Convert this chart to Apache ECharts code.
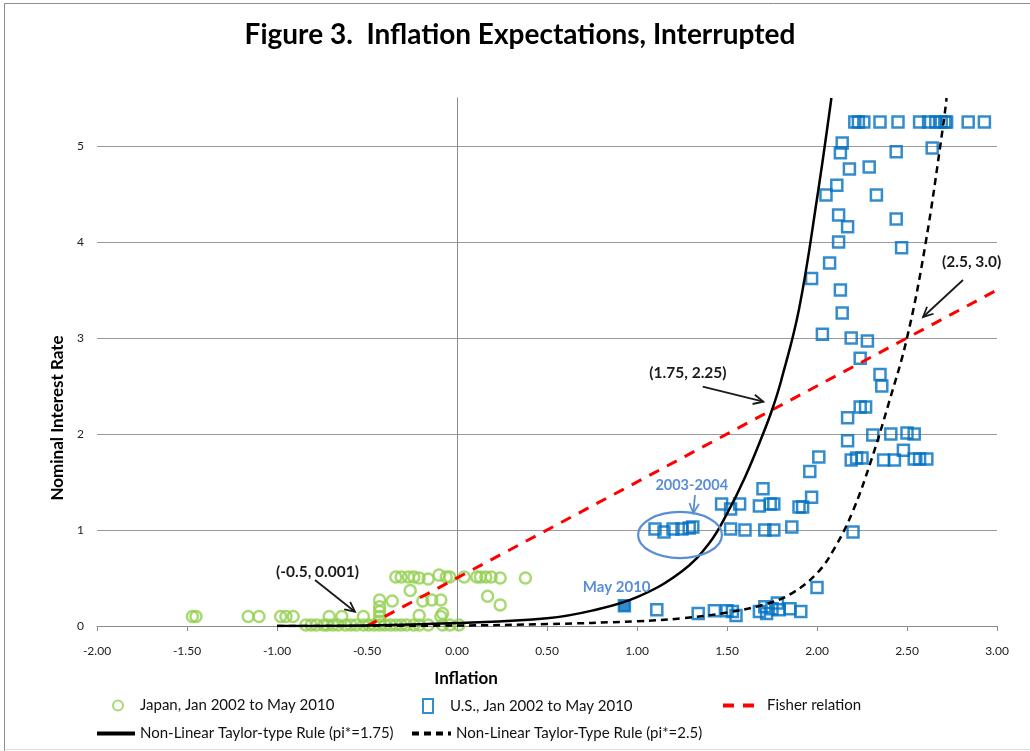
<!DOCTYPE html>
<html><head><meta charset="utf-8">
<script src="https://cdn.jsdelivr.net/npm/echarts@6/dist/echarts.min.js"></script>
<style>html,body{margin:0;padding:0;background:#fff}#c{width:1030px;height:751px}</style>
</head><body><div id="c"></div>
<script>
// ---------------- data ----------------
const xTickValues = [-2, -1.5, -1, -0.5, 0, 0.5, 1, 1.5, 2, 2.5, 3];
const yTickValues = [0, 1, 2, 3, 4, 5];

const japan = [
  [-1.47,0.10],[-1.45,0.10],[-1.16,0.10],[-1.10,0.10],[-0.98,0.10],[-0.95,0.10],[-0.91,0.10],
  [-0.71,0.10],[-0.64,0.10],[-0.52,0.10],
  [-0.43,0.05],[-0.43,0.10],[-0.43,0.15],[-0.43,0.20],[-0.43,0.27],[-0.36,0.26],[-0.26,0.37],
  [-0.21,0.11],[-0.19,0.26],[-0.14,0.27],[-0.09,0.27],[-0.08,0.13],[-0.09,0.10],
  [-0.84,0.01],[-0.81,0.01],[-0.78,0.01],[-0.74,0.01],[-0.72,0.01],[-0.69,0.01],[-0.66,0.01],
  [-0.62,0.01],[-0.59,0.01],[-0.56,0.01],[-0.52,0.01],[-0.49,0.01],[-0.46,0.01],[-0.43,0.01],
  [-0.40,0.01],[-0.37,0.01],[-0.34,0.01],[-0.31,0.01],[-0.28,0.01],[-0.24,0.01],[-0.21,0.01],
  [-0.16,0.01],[-0.08,0.01],[-0.04,0.01],[0.01,0.01],
  [-0.34,0.51],[-0.31,0.51],[-0.27,0.51],[-0.24,0.51],[-0.21,0.50],[-0.16,0.49],[-0.10,0.53],
  [-0.06,0.51],[-0.04,0.51],[0.04,0.51],[0.11,0.51],[0.13,0.51],[0.16,0.51],[0.19,0.51],
  [0.24,0.50],[0.38,0.50],[0.17,0.31],[0.24,0.22]
];

const us = [
  [2.21,5.25],[2.23,5.25],[2.26,5.25],[2.35,5.25],[2.45,5.25],[2.57,5.25],[2.62,5.25],[2.66,5.25],
  [2.69,5.25],[2.71,5.25],[2.72,5.25],[2.84,5.25],[2.93,5.25],
  [2.14,5.03],[2.13,4.93],[2.44,4.94],[2.64,4.98],[2.18,4.76],[2.29,4.78],[2.11,4.59],[2.05,4.49],
  [2.33,4.49],[2.12,4.28],[2.17,4.16],[2.44,4.24],[2.12,4.00],[2.47,3.94],[2.07,3.78],[1.97,3.62],
  [2.13,3.50],[2.14,3.26],[2.03,3.04],[2.19,3.00],[2.28,2.97],[2.24,2.79],[2.35,2.62],[2.36,2.50],
  [2.24,2.28],[2.27,2.28],[2.17,2.17],[2.17,1.93],[2.31,1.99],[2.41,2.00],[2.50,2.01],[2.54,2.00],
  [2.01,1.76],[1.96,1.61],[2.19,1.73],[2.22,1.75],[2.25,1.75],[2.37,1.73],[2.43,1.73],[2.48,1.83],
  [2.54,1.74],[2.57,1.74],[2.61,1.74],
  [1.10,1.01],[1.15,0.98],[1.20,1.01],[1.25,1.01],[1.29,1.02],[1.31,1.03],
  [1.47,1.27],[1.52,1.22],[1.57,1.27],[1.68,1.25],[1.70,1.43],[1.74,1.27],[1.76,1.27],[1.90,1.24],
  [1.92,1.24],[1.97,1.34],
  [1.52,1.01],[1.60,1.00],[1.71,1.00],[1.76,1.00],[1.86,1.03],[2.20,0.98],
  [1.11,0.17],[1.34,0.13],[1.43,0.16],[1.50,0.16],[1.53,0.15],[1.55,0.11],[1.68,0.15],[1.71,0.20],
  [1.72,0.13],[1.75,0.18],[1.78,0.24],[1.79,0.17],[1.85,0.18],[1.91,0.15],[2.00,0.40]
];
const usMay2010 = [0.93, 0.21];

const fisher = [[-0.5, 0.0], [3.0, 3.5]];

const taylor175 = [
  [-1.0,0.0],[-0.5,0.005],[0.0,0.03],[0.5,0.08],[0.75,0.16],[1.0,0.30],[1.25,0.57],[1.4,0.86],
  [1.5,1.17],[1.6,1.55],[1.7,2.0],[1.75,2.25],[1.8,2.55],[1.9,3.3],[2.0,4.45],[2.08,5.5]
];
const taylor25 = [
  [-1.0,0.0],[0.0,0.005],[0.5,0.02],[1.0,0.05],[1.25,0.08],[1.5,0.14],[1.7,0.22],[1.85,0.33],
  [2.0,0.55],[2.1,0.82],[2.2,1.2],[2.3,1.72],[2.4,2.33],[2.5,3.0],[2.6,3.95],[2.7,5.2],[2.72,5.5]
];

const names = {
  japan: 'Japan, Jan 2002 to May 2010',
  us: 'U.S., Jan 2002 to May 2010',
  fisher: 'Fisher relation',
  t175: 'Non-Linear Taylor-type Rule (pi*=1.75)',
  t25: 'Non-Linear Taylor-Type Rule (pi*=2.5)'
};

// ---------------- chart ----------------
const FONT = 'Lato';
const chart = echarts.init(document.getElementById('c'), null, {renderer: 'canvas'});
const GREEN = '#92D050', BLUE = '#0070C0', NOTE_BLUE = '#5A8ED4';
const HIDDEN_DOT = {color: 'rgba(0,0,0,0)', borderWidth: 0, opacity: 0};

function legendItem(name, left, top, w, h, pad, extra) {
  return Object.assign({
    data: [name], left: left, top: top, itemWidth: w, itemHeight: h,
    selectedMode: false, padding: 0,
    textStyle: {fontFamily: FONT, fontSize: 15, color: '#111', padding: [0, 0, 0, pad]}
  }, extra || {});
}

const usData = us.map(p => p.slice());
usData.push({value: usMay2010, itemStyle: {color: BLUE}});

chart.setOption({
  animation: false,
  backgroundColor: '#fff',
  textStyle: {fontFamily: FONT},
  grid: {left: 97, right: 33, top: 98, bottom: 125, containLabel: false},
  xAxis: {
    type: 'value', min: -2, max: 3, interval: 0.5,
    axisLine: {onZero: false, lineStyle: {color: '#8c8c8c', width: 1}},
    axisTick: {show: true, length: 5, lineStyle: {color: '#8c8c8c'}},
    axisLabel: {fontFamily: FONT, fontSize: 12, color: '#222', margin: 19,
      formatter: v => xTickValues.indexOf(v) >= 0 ? v.toFixed(2) : ''},
    splitLine: {show: false}
  },
  yAxis: {
    type: 'value', min: 0, max: 5.5, interval: 1,
    axisLine: {show: true, onZero: true, lineStyle: {color: '#8c8c8c', width: 1}},
    axisTick: {show: false},
    axisLabel: {fontFamily: FONT, fontSize: 12, color: '#222', margin: 13, showMaxLabel: false,
      formatter: v => yTickValues.indexOf(v) >= 0 ? String(v) : ''},
    splitLine: {show: true, showMinLine: false, showMaxLine: false, lineStyle: {color: '#9a9a9a', width: 1}}
  },
  legend: [
    legendItem(names.japan, 112, 698, 10, 14, 12),
    legendItem(names.us, 422, 698, 10, 14, 12),
    legendItem(names.fisher, 721, 698, 39, 14, 0, {lineStyle: {width: 4}}),
    legendItem(names.t175, 95, 726, 38, 14, 0, {lineStyle: {width: 4}}),
    legendItem(names.t25, 410, 726, 39, 14, 0, {lineStyle: {width: 4}})
  ],
  series: [
    {name: names.japan, type: 'scatter', data: japan, symbol: 'circle', symbolSize: 11,
      itemStyle: {color: 'rgba(255,255,255,0)', borderColor: GREEN, borderWidth: 2.5}, z: 2},
    {name: names.us, type: 'scatter', data: usData, symbol: 'rect', symbolSize: 11,
      itemStyle: {color: 'rgba(255,255,255,0)', borderColor: BLUE, borderWidth: 2.5}, z: 2},
    {name: names.fisher, type: 'line', data: fisher, symbol: 'none',
      lineStyle: {color: '#FF0000', width: 3, type: [11, 9]}, itemStyle: HIDDEN_DOT, z: 3},
    {name: names.t175, type: 'line', data: taylor175, symbol: 'none', smooth: 0.4,
      lineStyle: {color: '#000', width: 2.5}, itemStyle: HIDDEN_DOT, z: 3},
    {name: names.t25, type: 'line', data: taylor25, symbol: 'none', smooth: 0.4,
      lineStyle: {color: '#000', width: 2.5, type: [7, 5]}, itemStyle: HIDDEN_DOT, z: 3}
  ]
});

// ---------------- annotations (anchored in data space) ----------------
const notes = [
  {text: '(-0.5, 0.001)', at: [-0.775, 0.566], from: [-0.789, 0.479], to: [-0.567, 0.149], color: '#1a1a1a', size: 15.5},
  {text: '(1.75, 2.25)', at: [1.283, 2.635], from: [1.365, 2.493], to: [1.702, 2.336], color: '#1a1a1a', size: 15.5},
  {text: '(2.5, 3.0)', at: [2.859, 3.795], from: [2.811, 3.604], to: [2.589, 3.219], color: '#1a1a1a', size: 15.5},
  {text: '2003-2004', at: [1.304, 1.469], from: [1.322, 1.365], to: [1.313, 1.174], color: NOTE_BLUE, size: 14.5},
  {text: 'May 2010', at: [0.887, 0.409], color: NOTE_BLUE, size: 15}
];
const ellipse2003 = {center: [1.239, 0.948], rx: 0.233, ry: 0.240};

function P(p) { return chart.convertToPixel({gridIndex: 0}, p); }
const g = [];
notes.forEach(n => {
  const c = P(n.at);
  g.push({type: 'text', x: c[0], y: c[1], z: 10,
    style: {text: n.text, font: 'bold ' + n.size + 'px ' + FONT, fill: n.color, align: 'center', verticalAlign: 'middle'}});
  if (n.from) {
    const a = P(n.from), b = P(n.to);
    const ang = Math.atan2(b[1] - a[1], b[0] - a[0]);
    const L = 11, s = 0.45;
    const w1 = [b[0] - L * Math.cos(ang - s), b[1] - L * Math.sin(ang - s)];
    const w2 = [b[0] - L * Math.cos(ang + s), b[1] - L * Math.sin(ang + s)];
    g.push({type: 'line', z: 10, shape: {x1: a[0], y1: a[1], x2: b[0], y2: b[1]},
      style: {stroke: n.color, lineWidth: 1.8}});
    g.push({type: 'polyline', z: 10, shape: {points: [w1, b, w2]},
      style: {stroke: n.color, lineWidth: 1.8, fill: null}});
  }
});
const ec = P(ellipse2003.center);
const ex = P([ellipse2003.center[0] + ellipse2003.rx, ellipse2003.center[1] + ellipse2003.ry]);
g.push({type: 'ellipse', z: 10, shape: {cx: ec[0], cy: ec[1], rx: Math.abs(ex[0] - ec[0]), ry: Math.abs(ex[1] - ec[1])},
  style: {fill: null, stroke: NOTE_BLUE, lineWidth: 2.2}});

// titles and frame
g.push({type: 'text', x: 520, y: 35, style: {text: 'Figure 3.  Inflation Expectations, Interrupted',
  font: 'bold 28px ' + FONT, fill: '#000', align: 'center', verticalAlign: 'middle'}});
g.push({type: 'text', x: 466, y: 679, style: {text: 'Inflation',
  font: 'bold 17px ' + FONT, fill: '#000', align: 'center', verticalAlign: 'middle'}});
g.push({type: 'text', x: 58, y: 418, rotation: Math.PI / 2, style: {text: 'Nominal Interest Rate',
  font: 'bold 17px ' + FONT, fill: '#000', align: 'center', verticalAlign: 'middle'}});
g.push({type: 'line', shape: {x1: 4.5, y1: 3.5, x2: 1030, y2: 3.5}, style: {stroke: '#8c8c8c', lineWidth: 1}});
g.push({type: 'line', shape: {x1: 4.5, y1: 3.5, x2: 4.5, y2: 751}, style: {stroke: '#8c8c8c', lineWidth: 1}});
g.push({type: 'line', shape: {x1: 4.5, y1: 749.5, x2: 1030, y2: 749.5}, style: {stroke: '#dddddd', lineWidth: 1}});

chart.setOption({graphic: g});
</script>
</body></html>
